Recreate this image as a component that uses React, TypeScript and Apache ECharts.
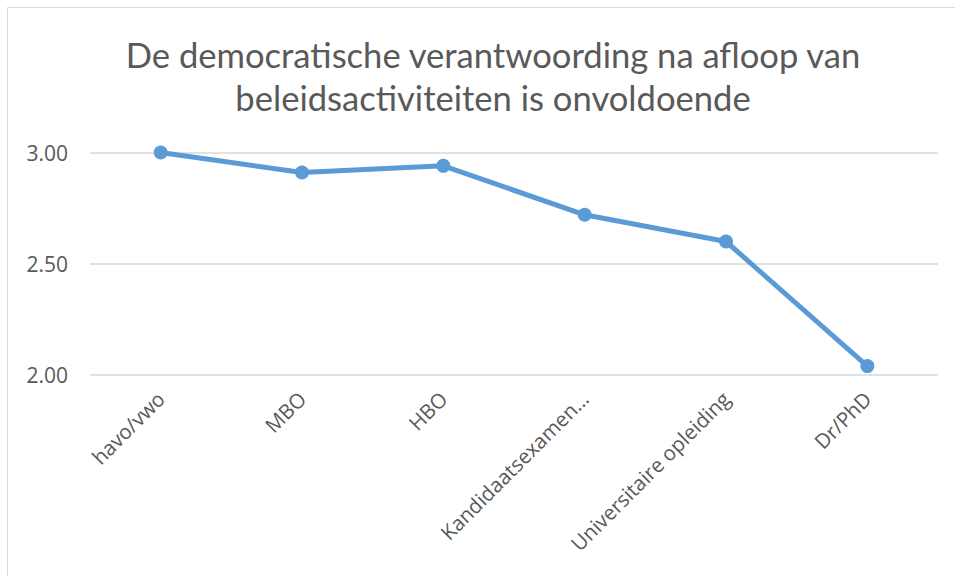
import React, { useEffect, useRef } from "react";
import * as echarts from "echarts";

const categories = [
  "havo/vwo",
  "MBO",
  "HBO",
  "Kandidaatsexamen…",
  "Universitaire opleiding",
  "Dr/PhD",
];
const values = [3.0, 2.91, 2.94, 2.72, 2.6, 2.04];
const titleText = "De democratische verantwoording na afloop van\nbeleidsactiviteiten is onvoldoende";

export default function App() {
  const ref = useRef<HTMLDivElement>(null);
  useEffect(() => {
    if (!ref.current) return;
    const chart = echarts.init(ref.current, null, { renderer: "svg" });
    chart.setOption({
      animation: false,
      backgroundColor: "#ffffff",
      title: {
        text: titleText,
        left: 488,
        textAlign: "center",
        top: 28,
        textStyle: {
          fontFamily: "Lato",
          fontWeight: "normal",
          fontSize: 34.6,
          color: "#595959",
          lineHeight: 43,
        },
      },
      graphic: [
        {
          type: "rect",
          shape: { x: 7.5, y: 7.5, width: 1000, height: 700 },
          style: { fill: "none", stroke: "#d9d9d9", lineWidth: 1 },
          silent: true,
        },
      ],
      grid: { left: 90, right: 17, top: 152.5, bottom: 201 },
      xAxis: {
        type: "category",
        data: categories,
        boundaryGap: true,
        axisLine: { show: false },
        axisTick: { show: false },
        axisLabel: {
          rotate: 45,
          interval: 0,
          margin: 20,
          fontFamily: "Open Sans",
          fontSize: 20.5,
          color: "#595959",
        },
      },
      yAxis: {
        type: "value",
        min: 2,
        max: 3,
        interval: 0.5,
        axisLine: { show: false },
        axisTick: { show: false },
        axisLabel: {
          formatter: (v: number) => v.toFixed(2),
          fontFamily: "Open Sans",
          fontSize: 21,
          color: "#595959",
          margin: 22,
        },
        splitLine: { lineStyle: { color: "#d9d9d9", width: 1.5 } },
      },
      series: [
        {
          type: "line",
          data: values,
          symbol: "circle",
          symbolSize: 14,
          lineStyle: { color: "#5b9bd5", width: 5 },
          itemStyle: { color: "#5b9bd5" },
        },
      ],
    });
    return () => chart.dispose();
  }, []);
  return (
    <div
      ref={ref}
      style={{ position: "absolute", left: 0, top: 0, width: 955, height: 576 }}
    />
  );
}
